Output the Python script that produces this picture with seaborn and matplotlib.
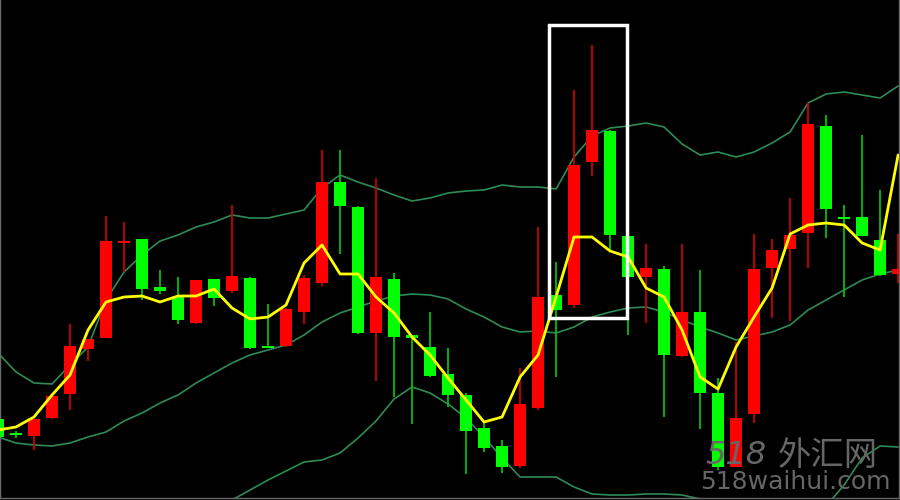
import numpy as np
import pandas as pd
import matplotlib
matplotlib.use("Agg")
import matplotlib.pyplot as plt
from matplotlib.patches import Rectangle
import seaborn as sns

# =====================
# DATA (harga)
# =====================
opens  = [81, 67, 64, 82, 106, 151, 162, 257, 261, 213, 203, 177, 221, 209, 222, 154, 154,
          188, 217, 318, 293, 167, 221, 165, 153, 126, 105, 72, 54, 34, 92, 205, 195, 338,
          369, 264, 223, 231, 144, 188, 107, 33, 86, 232, 251, 267, 374, 283, 283, 260, 226]
highs  = [84, 69, 81, 104, 176, 161, 284, 278, 261, 230, 223, 220, 221, 295, 223, 196, 192,
          225, 350, 350, 294, 322, 227, 165, 188, 152, 107, 77, 60, 132, 273, 238, 410, 455,
          370, 265, 256, 234, 256, 230, 122, 158, 266, 261, 302, 397, 385, 295, 365, 310, 266]
lows   = [60, 62, 50, 81, 90, 139, 162, 228, 200, 206, 176, 176, 194, 207, 151, 152, 153,
          176, 214, 246, 166, 119, 103, 76, 123, 93, 26, 48, 27, 32, 90, 123, 192, 324,
          248, 165, 177, 83, 143, 71, 30, 33, 77, 182, 179, 232, 262, 203, 264, 224, 217]
closes = [63, 65, 81, 104, 154, 161, 259, 259, 211, 209, 180, 220, 202, 224, 152, 152, 191,
          222, 318, 294, 167, 223, 163, 162, 124, 105, 69, 52, 33, 96, 203, 190, 335, 370,
          265, 223, 232, 145, 188, 107, 33, 82, 231, 250, 265, 376, 291, 281, 264, 225, 231]

ma_line = [70, 73, 83, 105, 125, 170, 198, 203, 204, 198, 204, 204, 211, 192, 181, 183, 195,
           237, 255, 226, 226, 203, 187, 163, 145, 122, 100, 78, 83, 123, 145, 203, 263, 263,
           249, 243, 212, 203, 170, 123, 111, 153, 183, 212, 266, 275, 277, 275, 257, 250, 345]
bb_upper = [147, 128, 117, 116, 135, 153, 200, 228, 245, 259, 265, 273, 278, 285, 282, 282, 286,
            290, 312, 325, 318, 312, 305, 299, 302, 307, 309, 310, 315, 313, 313, 311, 343, 364,
            372, 374, 377, 373, 356, 345, 348, 343, 348, 357, 368, 397, 406, 408, 405, 402, 414]
bb_mid = [63, 57, 55, 54, 57, 63, 68, 79, 87, 97, 105, 117, 127, 137, 145, 150, 155,
          165, 178, 187, 193, 199, 204, 206, 205, 201, 191, 183, 173, 168, 169, 167, 173, 183,
          188, 192, 193, 188, 180, 173, 167, 160, 164, 168, 175, 190, 200, 210, 220, 226, 230]
bb_lower = [-40, -45, -48, -50, -48, -45, -40, -33, -25, -18, -12, -7, -3, 0, 10, 20, 29,
            38, 40, 47, 62, 79, 101, 113, 107, 96, 82, 63, 42, 23, 23, 23, 13, 6,
            5, 5, 6, 6, 5, 1, -5, -10, -12, -12, -10, -7, -6, 15, 42, 54, 53]

# kotak highlight (index candle & harga)
box_x = [30.58, 34.92]
box_y = [182, 475.5]

df = pd.DataFrame({"open": opens, "high": highs, "low": lows, "close": closes,
                   "ma": ma_line, "upper": bb_upper, "mid": bb_mid, "lower": bb_lower})
df["idx"] = np.arange(len(df))
df["bull"] = df["close"] >= df["open"]

# =====================
# PLOT
# =====================
sns.set_theme(style="dark", rc={"axes.facecolor": "black", "figure.facecolor": "black"})
plt.rcParams["font.family"] = ["DejaVu Sans", "Noto Sans CJK SC"]

fig = plt.figure(figsize=(9, 5), dpi=100)
ax = fig.add_axes([0, 0.004, 0.999, 0.996])
ax.set_facecolor("black")

BB_COLOR = "#2e8b57"
for col in ["upper", "mid", "lower"]:
    sns.lineplot(data=df, x="idx", y=col, color=BB_COLOR, lw=1.2, ax=ax, zorder=1)

# wick
wick_colors = np.where(df["bull"], "#c80000", "#00c000")
ax.vlines(df["idx"], df["low"], df["high"], colors=wick_colors, lw=1.3, zorder=2)

# body
body_colors = np.where(df["bull"], "#ff0000", "#00ff00")
bottoms = np.minimum(df["open"], df["close"])
heights = np.maximum(np.abs(df["close"] - df["open"]), 1.5)
ax.bar(df["idx"], heights, bottom=bottoms, width=0.64, color=body_colors,
       linewidth=0, zorder=3)

sns.lineplot(data=df, x="idx", y="ma", color="#ffff00", lw=2, ax=ax, zorder=4)

ax.add_patch(Rectangle((box_x[0], box_y[0]), box_x[1] - box_x[0], box_y[1] - box_y[0],
                       fill=False, ec="white", lw=2.5, zorder=5))

ax.set_xlim(2 / 18, 901 / 18)
ax.set_ylim(2, 500)
ax.set_xticks([])
ax.set_yticks([])
ax.set_xlabel("")
ax.set_ylabel("")
ax.grid(False)
for side in ["left", "bottom", "right"]:
    ax.spines[side].set_visible(True)
    ax.spines[side].set_color("#6a6a6a")
    ax.spines[side].set_linewidth(1)
ax.spines["top"].set_visible(False)

# watermark
fig.text(705 / 900, 0.09, "518", fontsize=23, color="#666666", style="italic",
         family="DejaVu Sans", ha="left", va="center", zorder=10)
fig.text(778 / 900, 0.09, "外汇网", fontsize=24, color="#666666",
         family=["Noto Sans CJK SC", "DejaVu Sans"], ha="left", va="center", zorder=10)
fig.text(795 / 900, 0.036, "518waihui.com", fontsize=18, color="#666666",
         family="DejaVu Sans", ha="center", va="center", zorder=10)

fig.savefig("out.png", dpi=100, facecolor="black")
